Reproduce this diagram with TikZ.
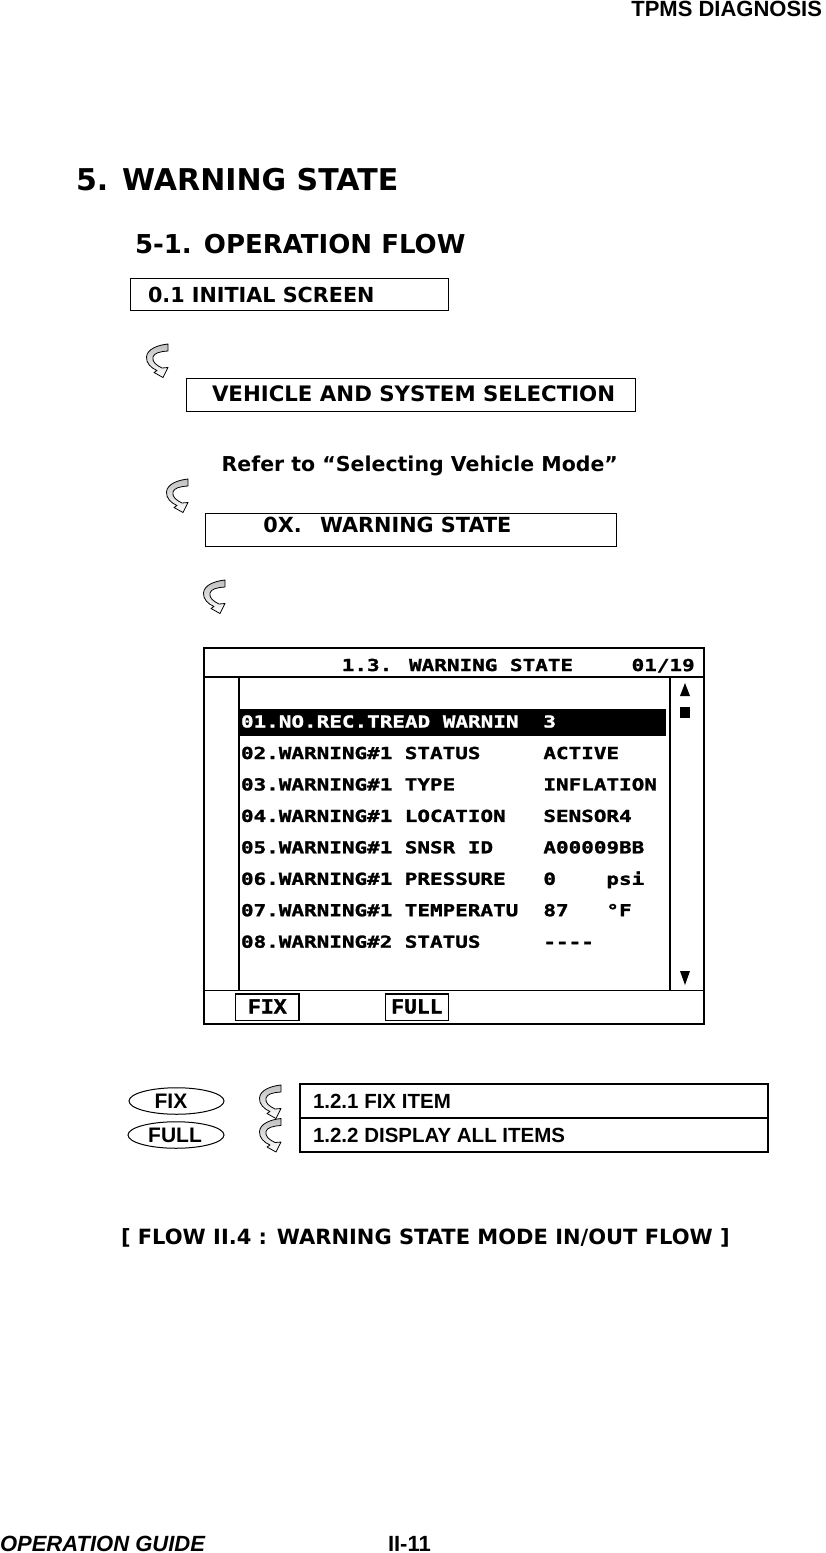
\documentclass[tikz,border=0pt]{standalone}
\usepackage{fontspec}
\usepackage{graphicx}
\usetikzlibrary{shapes.geometric}
\setmainfont{DejaVu Sans}
\newfontfamily\arialf{Liberation Sans}
\newfontfamily\scrf[FakeStretch=1.27,FakeBold=1.5]{DejaVu Sans Mono}
\newfontfamily\btnf[FakeBold=1.5]{Liberation Mono}
\newcommand\fsz[1]{\fontsize{#1}{#1}\selectfont}
\tikzset{
  lbl/.style={anchor=base west, inner sep=0pt, outer sep=0pt},
  boxn/.style={draw, line width=1.1pt, inner sep=0pt},
  scrtxt/.style={lbl, font=\scrf\bfseries\fsz{16.5}},
  curly/.pic={
    \path[draw=black, line width=0.8pt, line join=round, top color=gray!50, bottom color=white]
      (22,0) .. controls (12,1) and (1,5) .. (0.5,13)
      .. controls (0,19) and (5,24) .. (11,26.5)
      -- (8,28.5) -- (17,33.5) -- (22,23.5) -- (16,24)
      .. controls (10,21) and (6,18) .. (7,13)
      .. controls (8,9) and (14,7.5) .. (22,7) -- cycle;
  }
}
\begin{document}
\begin{tikzpicture}[x=1pt,y=-1pt]
\useasboundingbox (0,0) rectangle (825,1553);

% header / footer
\node[lbl, anchor=base east, font=\arialf\bfseries\fsz{22}] (hdr) at (822,16) {TPMS DIAGNOSIS};
\node[lbl, font=\arialf\bfseries\itshape\fsz{22}] (foot) at (0,1551) {OPERATION GUIDE};
\node[lbl, font=\arialf\bfseries\fsz{22}] (pg) at (388,1551) {II-11};

% headings
\node[lbl, font=\bfseries\fsz{30}] (h1) at (76,190) {5. WARNING STATE};
\node[lbl, font=\bfseries\fsz{26}] (h2) at (135,253.3) {5-1. OPERATION FLOW};

% flow boxes
\node[boxn, minimum width=318pt, minimum height=32.5pt] (b1) at (289.2,294.5) {};
\node[lbl, font=\bfseries\fsz{20.7}] (b1t) at (148,302) {0.1 INITIAL SCREEN};

\pic (a1) at (146,344) {curly};

\node[boxn, minimum width=449pt, minimum height=33.5pt] (b2) at (411.4,395) {};
\node[lbl, font=\bfseries\fsz{21.3}] (b2t) at (212,401.7) {VEHICLE AND SYSTEM SELECTION};

\node[lbl, font=\bfseries\fsz{20.5}] (refer) at (221.7,471.5) {Refer to “Selecting Vehicle Mode”};

\pic (a2) at (166,479) {curly};

\node[boxn, minimum width=411.7pt, minimum height=33.4pt] (b3) at (410.9,530) {};
\node[lbl, font=\bfseries\fsz{20.8}] (b3a) at (263.3,532.5) {0X.};
\node[lbl, font=\bfseries\fsz{20.8}] (b3b) at (320,532.5) {WARNING STATE};

\pic (a3) at (203,580) {curly};

% screen
\node[draw, line width=1.3pt, inner sep=0pt, minimum width=500pt, minimum height=376pt] (screen) at (454,836) {};
\draw[line width=1.3pt] (screen.west |- 0,677) coordinate (hl) -- (screen.east |- 0,677) coordinate (hr);
\draw[line width=1.3pt] (screen.west |- 0,990.5) coordinate (fl) -- (screen.east |- 0,990.5) coordinate (fr);
\coordinate (vl1) at (239,677); \coordinate (vl2) at (239,990.5);
\coordinate (vr1) at (670,677); \coordinate (vr2) at (670,990.5);
\draw[line width=1.3pt] (vl1) -- (vl2);
\draw[line width=1.3pt] (vr1) -- (vr2);

\node[scrtxt] (ttl1) at (341.8,671) {1.3. WARNING STATE};
\node[scrtxt] (ttl2) at (631.6,671) {01/19};

\fill (240,709) rectangle (666,735.5);
\node[scrtxt, text=white] (r1a) at (241,727.5) {01.NO.REC.TREAD WARNIN};
\node[scrtxt, text=white] (r1c) at (543.4,727.5) {3};

\foreach \i/\yy/\a/\b/\c/\d in {
  2/759/02.WARNING\#1/STATUS/ACTIVE/,
  3/790.4/03.WARNING\#1/TYPE/INFLATION/,
  4/821.9/04.WARNING\#1/LOCATION/SENSOR4/,
  5/853.3/05.WARNING\#1/SNSR ID/A00009BB/,
  6/884.8/06.WARNING\#1/PRESSURE/0/psi,
  7/916.2/07.WARNING\#1/TEMPERATU/87/°F,
  8/947.7/08.WARNING\#2/STATUS/----/}{
  \node[scrtxt] (r\i a) at (241,\yy) {\a};
  \node[scrtxt] (r\i b) at (404.8,\yy) {\b};
  \node[scrtxt] (r\i c) at (543.4,\yy) {\c};
  \node[scrtxt] (r\i d) at (606.4,\yy) {\d};
}

% scroll marks
\fill (680,696) -- (690,696) -- (685,683) -- cycle;
\fill (680,707) rectangle (690,718);
\fill (680,971) -- (690,971) -- (685,985) -- cycle;

% soft keys
\node[draw, line width=1.2pt, inner sep=0pt, minimum width=63.3pt, minimum height=26.7pt] (kfix) at (267.3,1007.3) {};
\node[draw, line width=1.2pt, inner sep=0pt, minimum width=62.6pt, minimum height=26.7pt] (kfull) at (417,1007.3) {};
\node[lbl, anchor=base, font=\btnf\bfseries\fsz{21.5}] (kfixt) at (kfix.center |- 0,1013.5) {FIX};
\node[lbl, anchor=base, font=\btnf\bfseries\fsz{21.5}] (kfullt) at (kfull.center |- 0,1013.5) {FULL};

% bottom legend
\node[ellipse, draw, line width=1pt, inner sep=0pt, minimum width=95pt, minimum height=26.5pt] (efix) at (176.5,1101) {};
\node[ellipse, draw, line width=1pt, inner sep=0pt, minimum width=96pt, minimum height=26.5pt] (efull) at (176,1135) {};
\node[lbl, anchor=base, font=\arialf\bfseries\fsz{21}] (efixt) at (171,1108.5) {FIX};
\node[lbl, anchor=base, font=\arialf\bfseries\fsz{21}] (efullt) at (175,1142.5) {FULL};

\pic (a4) at (259,1085) {curly};
\pic (a5) at (259,1118.5) {curly};

\node[boxn, minimum width=468pt, minimum height=34pt] (l1) at (534,1101) {};
\node[boxn, minimum width=468pt, minimum height=34pt] (l2) at (534,1135) {};
\node[lbl, font=\arialf\bfseries\fsz{20.5}] (l1t) at (313,1108.5) {1.2.1 FIX ITEM};
\node[lbl, font=\arialf\bfseries\fsz{20.5}] (l2t) at (313,1142.5) {1.2.2 DISPLAY ALL ITEMS};

% caption
\node[lbl, font=\bfseries\fsz{21}] (cap) at (121,1244) {[ FLOW II.4 : WARNING STATE MODE IN/OUT FLOW ]};
\end{tikzpicture}
\end{document}
